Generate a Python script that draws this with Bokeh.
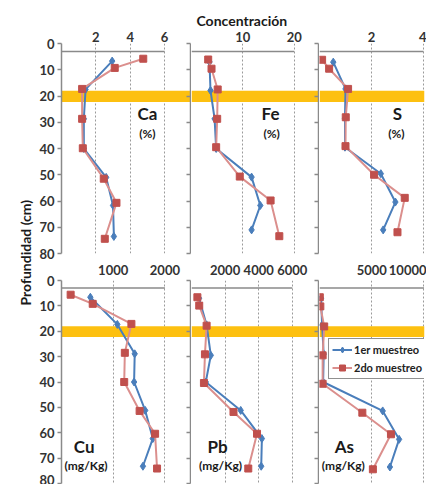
import math
from bokeh.plotting import figure
from bokeh.layouts import gridplot, row
from bokeh.models import (Range1d, LinearAxis, FixedTicker, Legend, LegendItem,
                          CustomJSTickFormatter)
from bokeh.core.properties import value
from bokeh.embed import file_html
from bokeh.resources import INLINE

FONT = "Lato"
BLUE = "#4A7EBB"
RED = "#C0504D"
RED_LINE = "#DB8F8D"
BAND = "#FDC010"
GRID = "#9A9A9A"
AXIS = "#8A8A8A"
TXT = "#333333"

depth_ticks = [0, 10, 20, 30, 40, 50, 60, 70, 80]
band_top = 18.0
band_bottom = 22.3
axis_cross = 3.0

# ---- data: depth (cm) and concentration, 1er muestreo (1) and 2do muestreo (2)
ca_d1 = [6.7, 17.5, 28.7, 40.0, 51.0, 61.7, 73.5]
ca_v1 = [2.95, 1.40, 1.30, 1.30, 2.60, 3.00, 3.05]
ca_d2 = [5.8, 9.3, 17.3, 28.7, 39.9, 51.5, 60.7, 74.4]
ca_v2 = [4.76, 3.10, 1.20, 1.20, 1.24, 2.46, 3.20, 2.52]

fe_d1 = [7.0, 17.9, 28.7, 40.0, 50.9, 61.7, 71.0]
fe_v1 = [3.5, 3.7, 4.5, 4.8, 11.7, 13.4, 11.7]
fe_d2 = [6.1, 9.6, 17.5, 28.7, 39.5, 50.7, 59.8, 73.4]
fe_v2 = [3.25, 3.9, 5.1, 5.0, 4.8, 9.4, 15.4, 17.1]

s_d1 = [7.1, 17.3, 28.5, 39.5, 49.6, 60.4, 71.0]
s_v1 = [0.53, 1.00, 0.98, 0.98, 2.36, 2.92, 2.45]
s_d2 = [6.2, 9.6, 17.3, 28.1, 39.1, 50.0, 58.8, 71.9]
s_v2 = [0.10, 0.37, 1.10, 1.01, 1.00, 2.10, 3.28, 3.00]

cu_d1 = [6.6, 17.3, 28.9, 40.0, 51.2, 62.3, 73.2]
cu_v1 = [558, 1080, 1416, 1404, 1619, 1766, 1575]
cu_d2 = [5.6, 9.2, 17.1, 28.5, 40.0, 51.4, 60.4, 74.1]
cu_v2 = [177, 604, 1352, 1225, 1213, 1511, 1810, 1848]

pb_d1 = [7.0, 17.5, 29.5, 40.0, 51.2, 62.3, 73.2]
pb_v1 = [450, 900, 1150, 850, 2930, 4190, 4150]
pb_d2 = [6.6, 9.9, 17.8, 29.1, 40.4, 51.8, 60.4, 74.1]
pb_v2 = [350, 460, 900, 800, 740, 2500, 3900, 3380]

as_d1 = [7.0, 17.5, 29.0, 40.0, 51.4, 62.6, 73.5]
as_v1 = [150, 250, 400, 350, 6050, 7620, 6740]
as_d2 = [6.6, 10.2, 18.1, 29.5, 40.7, 52.1, 60.6, 74.4]
as_v2 = [30, 80, 450, 300, 300, 4100, 6840, 5110]

names = ["Ca", "Fe", "S", "Cu", "Pb", "As"]
units = ["(%)", "(%)", "(%)", "(mg/Kg)", "(mg/Kg)", "(mg/Kg)"]
x_ticks = [[2, 4, 6], [10, 20], [2, 4], [1000, 2000], [2000, 4000, 6000], [5000, 10000]]
x_axis_max = [6, 20, 4, 2000, 6000, 10000]
x_view_max = [7.51, 24.73, 4.04, 2495, 7560, 10050]
name_x = [5.0, 15.4, 3.0, 438, 1547, 2380]
unit_x = [5.0, 15.6, 2.96, 476, 1726, 2285]
name_depth = [26.7, 26.7, 26.7, 65.3, 65.3, 65.3]
unit_depth = [34.3, 34.3, 34.3, 72.8, 72.8, 72.8]

series = [
    (ca_d1, ca_v1, ca_d2, ca_v2),
    (fe_d1, fe_v1, fe_d2, fe_v2),
    (s_d1, s_v1, s_d2, s_v2),
    (cu_d1, cu_v1, cu_d2, cu_v2),
    (pb_d1, pb_v1, pb_d2, pb_v2),
    (as_d1, as_v1, as_d2, as_v2),
]

# layout (pixels)
left_b = [27, 0, 0, 25, 0, 0]
frame_w = [129, 127, 105, 131, 127, 105]
right_b = [1, 1, 2, 1, 1, 2]
top_b = [43, 43, 43, 19, 19, 19]
frame_h = [210, 210, 210, 203, 203, 203]
bottom_b = [8, 8, 8, 1, 1, 1]
standoff = [-4, -4, -4, 0, 0, 0]


def style_text_axis(ax):
    ax.major_label_text_font = FONT
    ax.major_label_text_font_style = "bold"
    ax.major_label_text_font_size = "13px"
    ax.major_label_text_color = TXT


def make_panel(i):
    d1, v1, d2, v2 = series[i]
    p = figure(width=left_b[i] + frame_w[i] + right_b[i],
               height=top_b[i] + frame_h[i] + bottom_b[i],
               x_range=Range1d(0, x_view_max[i]), y_range=Range1d(80, 0),
               x_axis_location="above",
               y_axis_location="left" if i in (0, 3) else None,
               toolbar_location=None, output_backend="svg",
               min_border_left=left_b[i], min_border_right=right_b[i],
               min_border_top=top_b[i], min_border_bottom=bottom_b[i])
    p.outline_line_color = None
    p.background_fill_color = "white"
    p.border_fill_color = "white"
    p.ygrid.visible = False

    xa = p.xaxis[0]
    xa.ticker = FixedTicker(ticks=x_ticks[i])
    xa.axis_line_color = None
    xa.major_tick_line_color = None
    xa.minor_tick_line_color = None
    xa.major_label_standoff = standoff[i]
    style_text_axis(xa)
    p.xgrid.ticker = FixedTicker(ticks=x_ticks[i])
    p.xgrid.grid_line_color = GRID
    p.xgrid.grid_line_dash = "2 2"
    p.xgrid.grid_line_width = 1

    if i in (0, 3):
        ya = p.yaxis[0]
        ya.ticker = FixedTicker(ticks=depth_ticks)
        ya.axis_line_color = AXIS
        ya.axis_line_width = 1.5
        ya.major_tick_line_color = AXIS
        ya.major_tick_line_width = 1.5
        ya.major_tick_out = 4
        ya.major_tick_in = 0
        ya.minor_tick_line_color = None
        ya.major_label_standoff = 3
        style_text_axis(ya)

    if i in (0, 1, 3, 4):
        # y axis of the next panel, drawn at this panel's right edge
        ra = LinearAxis(ticker=FixedTicker(ticks=depth_ticks),
                        formatter=CustomJSTickFormatter(code="return ''"),
                        axis_line_color=AXIS, axis_line_width=1.5,
                        major_tick_line_color=AXIS, major_tick_line_width=1.5,
                        major_tick_in=4, major_tick_out=0,
                        minor_tick_line_color=None,
                        major_label_text_font_size="0px",
                        major_label_standoff=0)
        p.add_layout(ra, "right")

    p.quad(left=[0], right=[x_view_max[i]], top=[band_top], bottom=[band_bottom],
           fill_color=BAND, line_color=None)
    p.segment(x0=[0], y0=[axis_cross], x1=[x_axis_max[i]], y1=[axis_cross],
              line_color=AXIS, line_width=1.5)

    bl = p.line(v1, d1, line_color=BLUE, line_width=2)
    bs = p.scatter(v1, d1, marker="diamond", size=8, fill_color=BLUE, line_color=BLUE)
    rl = p.line(v2, d2, line_color=RED_LINE, line_width=2)
    rs = p.scatter(v2, d2, marker="square", size=7, fill_color=RED, line_color=RED)

    p.text(x=[name_x[i]], y=[name_depth[i]], text=[names[i]],
           text_font=value(FONT), text_font_style="bold", text_font_size="17px",
           text_align="center", text_baseline="middle", text_color="#1A1A1A")
    p.text(x=[unit_x[i]], y=[unit_depth[i]], text=[units[i]],
           text_font=value(FONT), text_font_style="bold", text_font_size="12px",
           text_align="center", text_baseline="middle", text_color="#1A1A1A")
    return p, (bl, bs, rl, rs)


panels = []
rends = []
for i in range(6):
    p, r = make_panel(i)
    panels.append(p)
    rends.append(r)

# title "Concentración" above the middle panel
t = panels[1].title
t.text = "Concentración"
t.align = "left"
t.offset = 5
t.standoff = 0
t.text_font = FONT
t.text_font_style = "bold"
t.text_font_size = "14px"
t.text_color = "#1A1A1A"

# legend in the As panel
bl, bs, rl, rs = rends[5]
legend = Legend(items=[LegendItem(label="1er muestreo", renderers=[bl, bs]),
                       LegendItem(label="2do muestreo", renderers=[rl, rs])],
                location=(9, 104), orientation="vertical")
legend.border_line_color = "#222222"
legend.border_line_width = 1.5
legend.background_fill_color = "white"
legend.background_fill_alpha = 1
legend.label_text_font = FONT
legend.label_text_font_style = "bold"
legend.label_text_font_size = "11px"
legend.label_text_color = "#222222"
legend.glyph_width = 20
legend.glyph_height = 15
legend.label_height = 15
legend.label_standoff = 2
legend.spacing = 3
legend.padding = 3
legend.margin = 0
panels[5].add_layout(legend, "center")

# y-axis title figure spanning both rows
total_h = top_b[0] + frame_h[0] + bottom_b[0] + top_b[3] + frame_h[3] + bottom_b[3]
tp = figure(width=34, height=total_h, x_range=Range1d(0, 1), y_range=Range1d(0, 1),
            x_axis_location=None, y_axis_location=None, toolbar_location=None,
            output_backend="svg", min_border=0)
tp.outline_line_color = None
tp.grid.visible = False
tp.text(x=[0.74], y=[0.479], text=["Profundidad (cm)"], angle=math.pi / 2,
        text_font=value(FONT), text_font_style="bold", text_font_size="14px",
        text_align="center", text_baseline="middle", text_color="#1A1A1A")

grid = gridplot([[panels[0], panels[1], panels[2]],
                 [panels[3], panels[4], panels[5]]], toolbar_location=None)
layout = row(tp, grid)

open("out.html", "w").write(file_html(layout, INLINE))
